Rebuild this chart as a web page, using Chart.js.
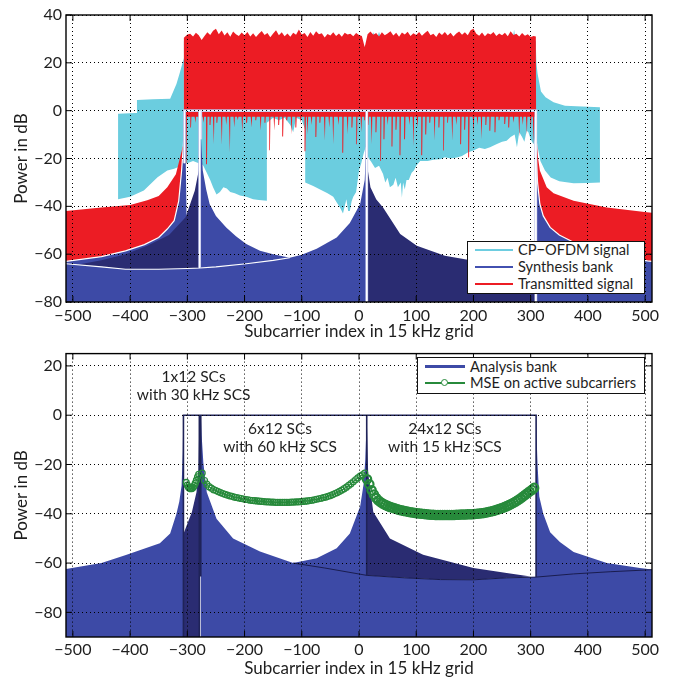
<!DOCTYPE html>
<html><head><meta charset="utf-8">
<script src="https://cdn.jsdelivr.net/npm/chart.js@4.4.1/dist/chart.umd.min.js"></script>
<style>
html,body{margin:0;padding:0;background:#fff}
body{width:674px;height:677px;position:relative;overflow:hidden;font-family:Lato,"DejaVu Sans",sans-serif;color:#1e1e1e}
canvas{position:absolute;left:0}
#top{top:0}
#bot{top:340px}
.lg{position:absolute;background:#fff;border:1.6px solid #111;box-sizing:border-box}
.lg .it{position:absolute;left:0;right:0;height:17px}
.lg .sw{position:absolute;height:2.6px;top:7.5px}
.lg .tx{position:absolute;top:0;line-height:17px;font-size:14.6px;white-space:nowrap;color:#1e1e1e}
.lg .mk{position:absolute;width:5px;height:5px;border:1.5px solid #278a3b;border-radius:50%;background:#fff;top:4.5px}
.ann{position:absolute;transform:translate(-50%,-50%);text-align:center;font-size:15.5px;line-height:18.5px;white-space:pre;color:#1e1e1e}
</style></head>
<body>
<canvas id="top" width="674" height="340"></canvas>
<canvas id="bot" width="674" height="337"></canvas>

<div class="lg" style="left:467px;top:241px;width:178px;height:53px">
  <div class="it" style="top:-1px"><div class="sw" style="left:7px;width:38px;background:#6dcde0"></div><div class="tx" style="left:50px">CP−OFDM signal</div></div>
  <div class="it" style="top:16px"><div class="sw" style="left:7px;width:38px;background:#4250b0"></div><div class="tx" style="left:50px">Synthesis bank</div></div>
  <div class="it" style="top:33px"><div class="sw" style="left:7px;width:38px;background:#ec1c24"></div><div class="tx" style="left:50px">Transmitted signal</div></div>
</div>
<div class="lg" style="left:417px;top:357px;width:228px;height:37px">
  <div class="it" style="top:-0.5px"><div class="sw" style="left:7px;width:40px;background:#3d4aa6"></div><div class="tx" style="left:52px">Analysis bank</div></div>
  <div class="it" style="top:16px"><div class="sw" style="left:7px;width:40px;background:#278a3b;height:1.6px;top:8px"></div><div class="mk" style="left:22.5px"></div><div class="tx" style="left:52px">MSE on active subcarriers</div></div>
</div>

<script>
// ================= axes / ticks =================
const xTicks = [-500,-400,-300,-200,-100,0,100,200,300,400,500];
const yTicksTop = [-80,-60,-40,-20,0,20,40];
const yTicksBot = [-80,-60,-40,-20,0,20];
const X_MIN = -512, X_MAX = 512;
const TOP_MIN = -80, TOP_MAX = 40;
const BOT_MIN = -90, BOT_MAX = 25;

// ================= TOP: CP-OFDM signal (cyan) =================
const cpLeftTopX = [-421,-421,-389,-388,-360,-330,-319,-313,-306];
const cpLeftTopY = [-37,-1.3,-1,4.5,4.8,5,11.2,16,22];
const cpLeftLowX = [-306,-310,-323,-335,-352,-376,-400];
const cpLeftLowY = [-22,-23,-24.3,-25,-27.8,-33.4,-36];
const cpRightTopX = [309,310,312,318,326,340,360,400,421];
const cpRightTopY = [28,20,15.5,8,5.6,3.5,2.1,1.6,1.4];
const cpRightLowX = [421,400,375,350,335,325,317,312,309];
const cpRightLowY = [-30,-30.2,-30.4,-29.5,-27.9,-25,-21,-15,-10];
const cpTopX = [-306,5,10,15,20,25,30,35,40,268,271,274,309];
const cpTopY = [29,29,26.5,29,29,32.8,29,33,29,29,33.8,29,29];
const cpMidLowX = [309,305,300,296,293,289,285,280,276,272,265,258,250,240,229,220,210,200,190,180,
  171,160,150,142,130,120,107,100,96,92,87,83,80,77,75,73,68,64,60,54,50,46,42,35,28,21,17,14,
  12,8,4,0,-5,-10,-13,-16,-19,-22,-25,-28,-33,-40,-45,-55,-68,-80,-94,
  -94,-100,-110,-115,-120,-130,-140,-150,-161,
  -161,-175,-185,-197,-208,-217,-225,-231,-237,-243,-249,-255,-260,-266,-272,-276,-280,-290,-300,-305];
const cpMidLowY = [-10,-14,-12,-9,-8.4,-13,-11,-9,-15.3,-10,-11,-12.6,-13,-14,-15.3,-16,-15.5,-16.7,-17.5,-19,
  -19.6,-20,-19.5,-20.3,-20.5,-21,-21,-23,-25,-26,-29,-29,-33,-30,-36.4,-30,-32,-28,-31,-32,-28,-30,-26.5,-23,-24,-21.3,-20,-18,
  -15,-18,-22,-25,-34,-36,-38,-42,-42,-37,-40,-43,-40.6,-38,-36,-34.5,-33,-31.5,-30,
  -8,-4,-3,-9,-6,-3,-4,-3,-5,
  -37.7,-37.3,-37,-36,-35.5,-34.5,-34,-32.5,-32,-34,-35,-32,-29,-26,-23,-22,-22,-21,-22,-22];

// ================= TOP: Transmitted signal (red) =================
const trLeftX = [-512,-450,-400,-370,-350,-335,-320,-312,-308,-306];
const trLeftY = [-42,-40.5,-39.4,-37.5,-35.7,-32,-26.6,-19,-15,-15];
const trTopX = [-306,-300,-295,-290,-285,-280,-275,-270,-265,-260,-255,-250,-245,-240,-235,-230,-225,-220,-215,-210,
  -205,-200,-195,-190,-185,-180,-175,-170,-165,-160,-155,-150,-145,-140,-135,-130,-125,-120,-115,-110,
  -105,-100,-95,-90,-85,-80,-75,-70,-65,-60,-55,-50,-45,-40,-35,-30,-25,-20,-15,-10,-5,0,
  5,10,15,20,25,30,35,40,45,50,55,60,65,70,75,80,85,90,95,100,105,110,115,120,125,130,135,140,145,150,
  155,160,165,170,175,180,185,190,195,200,205,210,215,220,225,230,235,240,245,250,
  255,260,265,270,275,280,285,290,295,300,305,309];
const trTopY = [30.5,31.8,32.2,31,32.6,31.5,
  29.5,31.2,32.8,31.6,33.4,34.2,
  32,33.5,31.4,32.8,30.9,33.1,32,31.2,32.7,31.5,
  32.9,31,32.4,30.8,32.2,33.3,31.6,32.5,30.7,32.3,
  33.6,31.5,32.8,31.1,32.3,30.9,32.6,31.7,33.9,31.8,
  32.5,30.8,32.9,31.3,33.2,31.9,32.4,30.6,32.1,31.4,
  32.8,31.2,32.3,30.9,32.6,31.8,32.2,31.1,32.5,31.6,
  31.2,26.5,31.9,33.1,31.7,32.5,31,32.8,31.5,32.3,
  33.2,31.4,32.6,30.9,32.7,31.8,33,31.2,32.4,31.6,
  32.9,31.3,32.5,33.4,31.5,32.2,30.8,32.7,31.6,32.9,
  31.4,32.6,31,32.3,33.1,31.7,32.8,31.5,33.6,34.3,
  32.2,31.3,32.7,31.1,32.4,31.8,32.9,31.2,32.3,31.5,
  32.6,31.1,33.2,31.6,32.2,31,32.5,31.3,32,30.8,
  31.2,31];
const trRightX = [309.5,311,313,316,328,340,375,433,503,512];
const trRightY = [-8,-14,-20,-25,-32,-34.5,-37.7,-40.5,-42.5,-42.7];
const trBase = -2.5;
const trSpikeX = [305,300,293,286,280,270,262,255,245,238,229,222,214,207,200,192,185,178,170,163,
  155,148,140,132,124,117,110,102,95,88,80,72,65,58,50,44,38,30,22,16,
  10,4,-4,-12,-20,-28,-36,-45,-52,-60,-68,-75,-83,-90,-94,-102,-110,-118,-126,-133,
  -140,-148,-156,-164,-172,-180,-188,-196,-204,-212,-218,-226,-232,-240,-248,-254,-260,-266,-272,-278,
  -286,-294,-302];
const trSpikeY = [-14,-8,-10,-6,-11,-5,-7,-5.6,-4,-9,-8.4,-6,-12,-6,-10,-19.6,-8,-14,-6,-12.6,
  -5,-16.7,-7,-12.6,-5,-10,-18.6,-7,-15,-6,-12,-18.6,-8,-15,-6,-12,-21,-9,-14,-6,
  -4,-9,-14,-7,-10,-17.6,-6,-14,-7,-12.6,-5,-11,-6,-10,-17,-5,-7,-10,-4,-10.8,
  -6,-8.4,-16.5,-5,-8.4,-4,-7,-5,-9,-4,-7,-17.6,-6,-14.4,-5,-14,-6,-22.4,-5,-8,
  -5,-7,-22];

// ================= TOP: Synthesis bank (blue) =================
const sbALx = [-512,-450,-408,-375,-350,-335,-323,-315,-310,-307,-305,-304];
const sbALy = [-63,-61,-58.6,-56,-53,-49.5,-46,-37.7,-25,-15,-5,0];
const sbBLx = [-490,-450,-408,-370,-332,-303,-287,-280,-278.5];
const sbBLy = [-64.3,-62.5,-60,-56.5,-52,-44.6,-33.5,-25,-17];
const sbARx = [-277,-276,-273,-267,-261,-250,-232,-215,-197,-173,-150,-121];
const sbARy = [0,-12,-25,-33,-39,-44,-48.8,-52.5,-55.8,-58.6,-60,-61.5];
const sbCLx = [-512,-450,-408,-350,-300,-278,-250,-197,-150,-121,-100,-74,-39,-16,2,10,12,13];
const sbCLy = [-64,-65.3,-66.3,-66.3,-66,-65.8,-65.3,-64,-62.6,-61.5,-60.2,-57.7,-53,-47,-39,-29,-18,0];
const sbBRx = [13.5,14.5,15.5,20,30,42,72,101,150,200,258,308.5];
const sbBRy = [-2,-15,-25,-32,-37,-40.5,-51.6,-56.5,-60.7,-62.8,-64.9,-66.3];
const sbCRx = [309,310,312,316,322,334,350,375,400,434,470,504,512];
const sbCRy = [0,-20,-30,-39,-44,-48.8,-52,-55,-57.5,-60,-61.5,-62.8,-63];
const sbPassX = [-305,-305,-278.5,-278.5,null,-276.5,-276.5,309,309,null,13.5,13.5];
const sbPassY = [-22,0,0,-65.8,null,-12,0,0,-80,null,0,-80];

// ================= BOTTOM: Analysis bank (blue) =================
const abALx = [-512,-450,-406,-348,-330,-319,-314,-310,-308,-307];
const abALy = [-62.4,-60,-56.6,-52,-48,-40,-35,-28.5,-15,0];
const abBLx = [-306.5,-292,-284,-280.5,-279.5,-279];
const abBLy = [-48,-39.3,-31.3,-22,-8,0];
const abARx = [-276.5,-275,-272,-266,-249,-220,-173,-115,-60,14,80,142,200,258,309,375,440,512];
const abARy = [0,-8,-19.3,-31.3,-42,-50,-55.3,-60,-62,-65,-66,-66.7,-66.8,-66,-65.7,-64.4,-63.5,-62.7];
const abCLx = [-115,-74,-39,-16,2,8,11,13,13.5];
const abCLy = [-60.3,-58,-54,-48,-37,-28,-18,-5,0];
const abBRx = [13.5,14,16,25,54,112,200,258,300];
const abBRy = [0,-5,-23.3,-39.3,-50,-56.6,-62,-64,-65.5];
const abCRx = [309.5,310.5,312,315,322,334,351,375,433,491,512];
const abCRy = [0,-10,-20,-33,-40,-47.5,-51.5,-55.5,-60,-62,-62.6];
const abPassX = [-306.8,-306.8,-279,-279,null,-276.5,-276.5,309.5,309.5,null,13.5,13.5];
const abPassY = [-90,0,0,-90,null,-65.5,0,0,-65.7,null,0,-65];

// ================= BOTTOM: MSE on active subcarriers =================
const mse30X = [-302,-300,-298,-296,-294,-292,-290,-288,-286,-284,-282,-280];
const mse30Y = [-27.3,-28.4,-29.2,-29.6,-29.8,-29.7,-29.3,-28.6,-27.6,-26.4,-25,-24];
const mse60X = [-274,-270,-266,-262,-258,-254,-250,-246,-242,-238,
  -234,-230,-226,-222,-218,-214,-210,-206,-202,-198,
  -194,-190,-186,-182,-178,-174,-170,-166,-162,-158,
  -154,-150,-146,-142,-138,-134,-130,-126,-122,-118,
  -114,-110,-106,-102,-98,-94,-90,-86,-82,-78,
  -74,-70,-66,-62,-58,-54,-50,-46,-42,-38,
  -34,-30,-26,-22,-18,-14,-10,-6,-2,2,
  6,10];
const mse60Y = [-23.5,-26.5,-28,-29,-29.6,-30.2,-30.6,-31,-31.4,-31.8,
  -32.1,-32.4,-32.7,-32.9,-33.2,-33.4,-33.6,-33.8,-34,-34.2,
  -34.3,-34.5,-34.6,-34.7,-34.8,-34.9,-35,-35.1,-35.2,-35.2,
  -35.3,-35.3,-35.4,-35.4,-35.4,-35.4,-35.4,-35.4,-35.4,-35.3,
  -35.3,-35.2,-35.2,-35.1,-35,-34.9,-34.8,-34.6,-34.5,-34.3,
  -34.1,-33.9,-33.7,-33.4,-33.2,-32.9,-32.6,-32.2,-31.8,-31.4,
  -30.9,-30.4,-29.8,-29.2,-28.5,-27.8,-27,-26.2,-25.4,-24.7,
  -24.2,-23.5];
const mse15X = [14,18,22,26,30,34,38,42,46,50,
  54,58,62,66,70,74,78,82,86,90,
  94,98,102,106,110,114,118,122,126,130,
  134,138,142,146,150,154,158,162,166,170,
  174,178,182,186,190,194,198,202,206,210,
  214,218,222,226,230,234,238,242,246,250,
  254,258,262,266,270,274,278,282,286,290,
  294,298,302,306];
const mse15Y = [-26,-28,-30.5,-32.2,-33.6,-34.6,-35.3,-35.9,-36.4,-36.8,
  -37.2,-37.5,-37.8,-38.1,-38.4,-38.6,-38.8,-39,-39.2,-39.4,
  -39.5,-39.7,-39.8,-39.9,-40,-40.1,-40.2,-40.3,-40.4,-40.4,
  -40.5,-40.5,-40.5,-40.5,-40.5,-40.5,-40.5,-40.5,-40.5,-40.4,
  -40.4,-40.3,-40.3,-40.3,-40.2,-40.2,-40.2,-40.1,-40,-39.9,
  -39.8,-39.7,-39.5,-39.3,-39.1,-38.9,-38.6,-38.3,-38,-37.7,
  -37.3,-36.9,-36.5,-36,-35.5,-35,-34.4,-33.8,-33.1,-32.4,
  -31.7,-31,-30.3,-29.5];

// ================= annotations (bottom) =================
const annX = [-289, -138, 150];
const annY = [12.4, -8.7, -8.7];
const annText = ['1x12 SCs\nwith 30 kHz SCS', '6x12 SCs\nwith 60 kHz SCS', '24x12 SCs\nwith 15 kHz SCS'];

// ================= colours =================
const C_CYAN = '#6bcddf', C_RED = '#ec1c24', C_BLUE = '#3d4aa6', C_NAVY = '#2a2c72', C_GREEN = '#278a3b';
const TXT = '#1e1e1e', FONT = 'Lato, "DejaVu Sans", sans-serif';

// ================= helpers =================
const P = (xs, ys) => xs.map((x, i) => ({x: x, y: ys[i]}));
const sel = (pts, f) => pts.filter(p => f(p.x));
function poly(points, color) {
  return {data: points, fill: 'shape', backgroundColor: color, borderColor: 'rgba(0,0,0,0)', borderWidth: 0, pointRadius: 0};
}
function lineDs(points, color, width) {
  return {data: points, fill: false, borderColor: color, borderWidth: width, pointRadius: 0, spanGaps: false};
}
function stack(list) { const n = list.length; list.forEach((d, i) => { d.order = n - i; }); return list; }
const fmt = v => (v < 0 ? '\u2212' + Math.abs(v) : String(v));

// ---- top polygons ----
const cpLeft = P(cpLeftTopX, cpLeftTopY).concat(P(cpLeftLowX, cpLeftLowY));
const cpRight = P(cpRightTopX, cpRightTopY).concat(P(cpRightLowX, cpRightLowY));
const cpMain = P(cpTopX, cpTopY).concat(P(cpMidLowX, cpMidLowY));

const spikeEdge = [];
trSpikeX.forEach((sx, i) => {
  spikeEdge.push({x: sx + 1.2, y: trBase}, {x: sx + 0.4, y: trSpikeY[i]}, {x: sx - 0.4, y: trSpikeY[i]}, {x: sx - 1.2, y: trBase});
});
const trL = trLeftX[trLeftX.length - 1];
const trR0 = trRightX[0], trRN = trRightX[trRightX.length - 1];
const redPoly = [{x: trLeftX[0], y: TOP_MIN}]
  .concat(P(trLeftX, trLeftY), P(trTopX, trTopY), P(trRightX, trRightY))
  .concat([{x: trRN, y: TOP_MIN}, {x: trR0, y: TOP_MIN}, {x: trR0, y: trBase}])
  .concat(spikeEdge)
  .concat([{x: trL, y: trBase}, {x: trL, y: TOP_MIN}]);

const sbAL = P(sbALx, sbALy), sbBL = P(sbBLx, sbBLy), sbAR = P(sbARx, sbARy),
      sbCL = P(sbCLx, sbCLy), sbBR = P(sbBRx, sbBRy), sbCR = P(sbCRx, sbCRy);
const lbTop = [{x: sbALx[0], y: TOP_MIN}]
  .concat(sbAL, sel(sbCL, x => x > -304 && x < -277), sbAR, sel(sbCL, x => x > -121))
  .concat([{x: sbBRx[0], y: TOP_MIN}, {x: sbCRx[0], y: TOP_MIN}], sbCR, [{x: sbCRx[sbCRx.length - 1], y: TOP_MIN}]);
const navy1 = sbBL.concat(sel(sbCL, x => x > -490 && x <= -278).reverse());
const navy2 = [{x: sbBRx[0], y: TOP_MIN}].concat(sbBR, [{x: sbBRx[sbBRx.length - 1], y: TOP_MIN}]);

const topSets = stack([
  poly(cpLeft, C_CYAN),
  poly(cpRight, C_CYAN),
  poly(cpMain, C_CYAN),
  poly(redPoly, C_RED),
  poly(lbTop, C_BLUE),
  poly(navy1, C_NAVY),
  poly(navy2, C_NAVY),
  lineDs(sbAL, '#ffffff', 1.2),
  lineDs(sel(sbCL, x => x <= -121), '#ffffff', 1.1),
  lineDs(sbCR, '#ffffff', 1.2),
  lineDs(P(sbPassX, sbPassY), '#bcc0e8', 2.8),
  lineDs(P(sbPassX, sbPassY), '#ffffff', 1)
]);

// ---- bottom polygons ----
const abAL = P(abALx, abALy), abBL = P(abBLx, abBLy), abAR = P(abARx, abARy),
      abCL = P(abCLx, abCLy), abBR = P(abBRx, abBRy), abCR = P(abCRx, abCRy);
const lb1 = [{x: abALx[0], y: BOT_MIN}].concat(abAL, [{x: abALx[abALx.length - 1], y: BOT_MIN}]);
const col = [{x: abBLx[0], y: BOT_MIN}].concat(abBL, [{x: abBLx[abBLx.length - 1], y: BOT_MIN}]);
const lb2 = [{x: abARx[0], y: BOT_MIN}]
  .concat(sel(abAR, x => x <= -115), sel(abCL, x => x > -115), sel(abAR, x => x >= 14 && x <= 309), abCR)
  .concat([{x: abCRx[abCRx.length - 1], y: BOT_MIN}]);
const navyB = abBR.concat(sel(abAR, x => x >= 14 && x <= 258).reverse());

function mseDs(xs, ys, r, bw) {
  return {data: P(xs, ys), fill: false, borderColor: C_GREEN, borderWidth: 1.2, pointRadius: r,
    pointStyle: 'circle', pointBorderColor: C_GREEN, pointBorderWidth: bw, pointBackgroundColor: 'rgba(255,255,255,0)'};
}
const botSets = stack([
  poly(lb1, C_BLUE),
  poly(lb2, C_BLUE),
  poly(col, C_NAVY),
  poly(navyB, C_NAVY),
  lineDs(sel(abAR, x => x >= -115), '#1a1d4f', 1),
  lineDs(P(abPassX, abPassY), '#1f2358', 1.6),
  mseDs(mse30X, mse30Y, 3, 1.3),
  mseDs(mse60X, mse60Y, 3, 1.2),
  mseDs(mse15X, mse15Y, 4.2, 2.2)
]);

// ================= frame plugin =================
const framePlugin = {
  id: 'frame',
  afterDraw(chart, args, opts) {
    const {ctx, chartArea: a, scales} = chart;
    ctx.save();
    ctx.strokeStyle = '#000';
    ctx.lineWidth = 1;
    ctx.beginPath();
    xTicks.forEach(v => {
      const p = scales.x.getPixelForValue(v);
      ctx.moveTo(p, a.bottom); ctx.lineTo(p, a.bottom - 6);
      ctx.moveTo(p, a.top); ctx.lineTo(p, a.top + 6);
    });
    (opts.yTicks || []).forEach(v => {
      const p = scales.y.getPixelForValue(v);
      ctx.moveTo(a.left, p); ctx.lineTo(a.left + 6, p);
      ctx.moveTo(a.right, p); ctx.lineTo(a.right - 6, p);
    });
    ctx.stroke();
    ctx.lineWidth = 1.4;
    ctx.strokeRect(a.left, a.top, a.right - a.left, a.bottom - a.top);
    ctx.restore();
  }
};

function makeOptions(c) {
  return {
    responsive: false, animation: false, devicePixelRatio: 1, events: [],
    layout: {padding: {left: 0, right: 22, top: c.padTop, bottom: 0}},
    plugins: {legend: {display: false}, tooltip: {enabled: false}, frame: {yTicks: c.yTicks}},
    elements: {point: {radius: 0}, line: {tension: 0}},
    scales: {
      x: {
        type: 'linear', min: X_MIN, max: X_MAX,
        afterBuildTicks: s => { s.ticks = xTicks.map(v => ({value: v})); },
        afterFit: s => { s.height = c.xAxisH; },
        grid: {z: 1, color: '#000', lineWidth: 1, drawTicks: false},
        border: {display: false, dash: [1, 3]},
        ticks: {padding: c.xTickPad, color: TXT, font: {family: FONT, size: 16}, callback: fmt, maxRotation: 0, autoSkip: false},
        title: {display: true, text: 'Subcarrier index in 15 kHz grid', color: TXT, font: {family: FONT, size: 17, lineHeight: 1}, padding: {top: 0, bottom: 0}}
      },
      y: {
        type: 'linear', min: c.yMin, max: c.yMax,
        afterBuildTicks: s => { s.ticks = c.yTicks.map(v => ({value: v})); },
        afterFit: s => { s.width = 66; },
        grid: {z: 1, color: '#000', lineWidth: 1, drawTicks: false},
        border: {display: false, dash: [1, 3]},
        ticks: {padding: 4, color: TXT, font: {family: FONT, size: 16}, callback: fmt, autoSkip: false},
        title: {display: true, text: 'Power in dB', color: TXT, font: {family: FONT, size: 17}, padding: {top: 11, bottom: 0}}
      }
    }
  };
}

Chart.defaults.font.family = FONT;
const chartTop = new Chart(document.getElementById('top'), {
  type: 'line', data: {datasets: topSets}, plugins: [framePlugin],
  options: makeOptions({padTop: 15, xAxisH: 38, xTickPad: 4, yMin: TOP_MIN, yMax: TOP_MAX, yTicks: yTicksTop})
});
const chartBot = new Chart(document.getElementById('bot'), {
  type: 'line', data: {datasets: botSets}, plugins: [framePlugin],
  options: makeOptions({padTop: 9, xAxisH: 40, xTickPad: 3, yMin: BOT_MIN, yMax: BOT_MAX, yTicks: yTicksBot})
});

// annotations placed through the bottom chart's scales
annText.forEach((t, i) => {
  const d = document.createElement('div');
  d.className = 'ann';
  d.textContent = t;
  d.style.left = chartBot.scales.x.getPixelForValue(annX[i]) + 'px';
  d.style.top = (340 + chartBot.scales.y.getPixelForValue(annY[i])) + 'px';
  document.body.appendChild(d);
});
</script>
</body></html>
